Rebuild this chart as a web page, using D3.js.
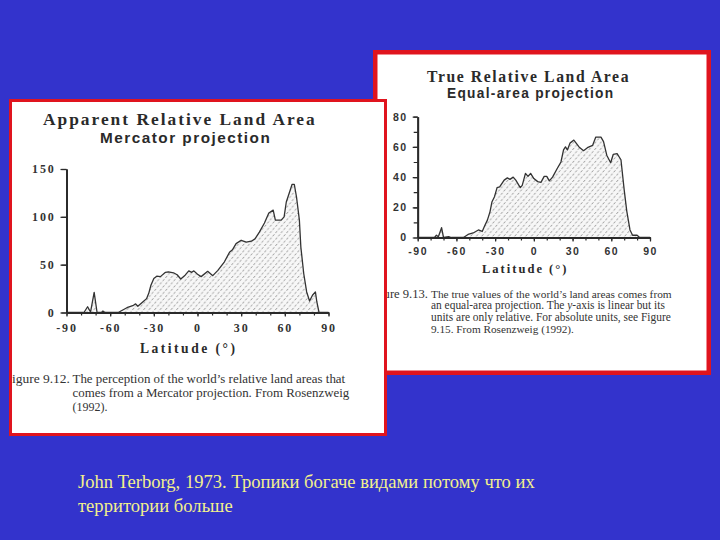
<!DOCTYPE html>
<html><head><meta charset="utf-8">
<script src="https://cdn.jsdelivr.net/npm/d3@7"></script>
<style>
html,body{margin:0;padding:0;background:#3333cc;}
svg{display:block;}
</style></head>
<body>
<svg id="c" width="720" height="540"></svg>
<script>
// ---------- data ----------
const latTicks = [-90, -60, -30, 0, 30, 60, 90];
const mercTicks = [0, 50, 100, 150];
const equalTicks = [0, 20, 40, 60, 80];

const mercLat = [-90,-78,-75.5,-73.5,-71,-69,-66,-65,-63.5,-54.5,-48.5,-44,-42.5,-41,-38,-35,-33.5,-32,-30,-28,-25.5,-22,-20,-16.5,-14,-11.5,-8.5,-6,-4,-2.5,0,2.5,7,10.5,14,18.5,22,24,26.5,30,33.5,37,39.5,42.5,46,49,52,53.5,57.5,59.5,61,63.5,65,66.5,68,70,71,73,75,77,79,81,82,83.5,90];
const mercVal = [0,0,6,0.5,21,0,0,1.5,0,0,5,7.5,9,6.5,10.5,14.5,20,28.5,35.5,38,37.5,42,42.5,41.5,39.5,35,39,43.5,42,43.5,40,37.5,43,38.5,44,53,63,65.5,72,75.5,73.5,74.5,77,84,93.5,104,107,96.5,96.5,100,115.5,127,134,134,121,96.5,68.5,40.5,21.5,12,18,21.5,11,0,0];

const equalLat = [-90,-77,-75.5,-74,-71.5,-70,-66,-64,-54.5,-51,-47,-43,-40,-38,-36,-34,-32.5,-30.5,-28.5,-26.5,-23,-20.5,-18.5,-16,-14,-10.5,-9,-6.5,-4.5,-2.5,0,3,5.5,8,10,12,14.5,18,21,23,24.5,26,28,31,35,38.5,41.5,45.5,48,52,54,56.5,59.5,61.5,64.5,67.5,70,72,74.5,76.5,80,82,90];
const equalVal = [0,0,1.5,0.5,6.5,0,0.5,0,0,2,3,5,4,8,11.5,17,23.5,27,33,33.5,38,39.5,38.5,40,38,33,34.5,42.5,40.5,42.5,39,37,36.5,40.5,40.5,37.5,40,45.5,50,58,60,58,62.5,64.5,60,57.5,59.5,61,66.5,66.5,63.5,54.5,49.5,55,55.5,51.5,31.5,17.5,5,1.5,1.5,0,0];

const leftTitle = ["Apparent Relative Land Area", "Mercator projection"];
const rightTitle = ["True Relative Land Area", "Equal-area projection"];
const axisTitle = "Latitude (°)";
const leftCaption = ["The perception of the world\u2019s relative land areas that", "comes from a Mercator projection. From Rosenzweig", "(1992)."];
const rightCaption = ["The true values of the world\u2019s land areas comes from", "an equal-area projection. The |y|-axis is linear but its", "units are only relative. For absolute units, see Figure", "9.15.  From Rosenzweig (1992)."];
const footer = ["John Terborg, 1973. Тропики богаче видами потому что их", "территории больше"];

// ---------- drawing ----------
const svg = d3.select("#c");
svg.append("rect").attr("width",720).attr("height",540).attr("fill","#3333cc");
const defs = svg.append("defs");
const pat = defs.append("pattern").attr("id","hatch").attr("patternUnits","userSpaceOnUse")
  .attr("width",5.5).attr("height",6.4);
pat.append("rect").attr("width",5.5).attr("height",6.4).attr("fill","#f7f7f7");
pat.append("path").attr("d","M0.5,2.6L2.1,0.8M3.25,5.8L4.85,4.0").attr("stroke","#7a7a7a").attr("stroke-width",0.85);

function fitText(sel, target, maxSize){
  const node = sel.node();
  const w = node.getComputedTextLength();
  if (w > 0) {
    const fs = parseFloat(sel.attr("font-size"));
    sel.attr("font-size", Math.min(maxSize || 99, fs * target / w));
  }
  return sel;
}

function panel(g, x0, y0, x1, y1, bw, clipId){
  g.append("rect").attr("x",x0).attr("y",y0).attr("width",x1-x0).attr("height",y1-y0).attr("fill","#e0141e");
  g.append("rect").attr("x",x0+bw).attr("y",y0+bw).attr("width",x1-x0-2*bw).attr("height",y1-y0-2*bw).attr("fill","#ffffff");
  defs.append("clipPath").attr("id",clipId).append("rect")
    .attr("x",x0+bw).attr("y",y0+bw).attr("width",x1-x0-2*bw).attr("height",y1-y0-2*bw);
  return g.append("g").attr("clip-path",`url(#${clipId})`);
}

function chart(g, cfg){
  const x = d3.scaleLinear().domain([-90,90]).range(cfg.xr);
  const y = d3.scaleLinear().domain([0, cfg.ymax]).range(cfg.yr);
  const data = cfg.lat.map((d,i)=>[d, cfg.val[i]]);
  const area = d3.area().x(d=>x(d[0])).y0(y(0)).y1(d=>y(d[1])).curve(d3.curveLinear);
  const line = d3.line().x(d=>x(d[0])).y(d=>y(d[1])).curve(d3.curveLinear);
  g.append("path").datum(data).attr("d",area).attr("fill","url(#hatch)");
  g.append("path").datum(data).attr("d",line).attr("fill","none").attr("stroke","#333")
    .attr("stroke-width",1.3).attr("stroke-linejoin","round");

  const fmt = d => String(d);
  const ya = d3.axisLeft(y).tickValues(cfg.yminor).tickSize(cfg.ytick).tickSizeOuter(0).tickFormat(()=>"");
  const yg = g.append("g").attr("transform",`translate(${cfg.xr[0]},0)`).call(ya);
  const yl = d3.axisLeft(y).tickValues(cfg.yticks).tickSize(cfg.ytick+1).tickSizeOuter(0).tickPadding(3).tickFormat(fmt);
  const yg2 = g.append("g").attr("transform",`translate(${cfg.xr[0]},0)`).call(yl);
  const xa = d3.axisBottom(x).tickValues(d3.range(-90,91,10)).tickSize(3).tickSizeOuter(0).tickFormat(()=>"");
  const xg = g.append("g").attr("transform",`translate(0,${cfg.yr[0]})`).call(xa);
  const xl = d3.axisBottom(x).tickValues(latTicks).tickSize(4).tickSizeOuter(0).tickPadding(cfg.xpad).tickFormat(fmt);
  const xg2 = g.append("g").attr("transform",`translate(0,${cfg.yr[0]})`).call(xl);
  [yg,yg2,xg,xg2].forEach(a=>{
    a.select(".domain").attr("stroke","#2a2a2a").attr("stroke-width",1.8);
    a.selectAll(".tick line").attr("stroke","#2a2a2a").attr("stroke-width",1.2);
    a.selectAll("text").attr("fill","#333").attr("font-family",cfg.tickFont)
      .attr("font-weight","bold").attr("font-size",cfg.tickSize).style("letter-spacing",cfg.tickLS);
  });
  yg2.selectAll("text").attr("dx", cfg.ydx || 0);
}

// Right panel (behind)
const gr = svg.append("g");
const cr = panel(gr, 373, 50, 711, 375, 4.5, "clipR");
chart(cr, {lat:equalLat, val:equalVal, ymax:80, xr:[417.7,650], yr:[237.5,116.7],
  yticks:equalTicks, yminor:d3.range(0,81,10), ytick:4, xpad:6,
  tickFont:"Liberation Sans, Arial, sans-serif", tickSize:10.5, tickLS:"1.5px", ydx:-2});
fitText(cr.append("text").attr("x",427).attr("y",81.5).attr("font-family","Liberation Serif, Times New Roman, serif")
  .attr("font-weight","bold").attr("font-size",15).style("letter-spacing","1.6px").attr("fill","#2a2a2a").text(rightTitle[0]), 205, 16);
fitText(cr.append("text").attr("x",447).attr("y",98).attr("font-family","Liberation Sans, Arial, sans-serif")
  .attr("font-weight","bold").attr("font-size",13).style("letter-spacing","1.3px").attr("fill","#2a2a2a").text(rightTitle[1]), 169, 14);
fitText(cr.append("text").attr("x",482).attr("y",273).attr("font-family","Liberation Serif, Times New Roman, serif")
  .attr("font-weight","bold").attr("font-size",14).style("letter-spacing","2px").attr("fill","#2a2a2a").text(axisTitle), 84, 16);
cr.append("text").attr("x",428).attr("y",297.5).attr("text-anchor","end")
  .attr("font-family","Liberation Serif, Times New Roman, serif").attr("font-size",12.6).attr("fill","#333").text("Figure 9.13.");
const rightTargets = [241, 234, 240, 143];
rightCaption.forEach((s,i)=>{
  const t = cr.append("text").attr("x",431).attr("y",297.5+i*11.7)
    .attr("font-family","Liberation Serif, Times New Roman, serif").attr("font-size",12.3).attr("fill","#333");
  s.split("|").forEach((p,j)=>{ t.append("tspan").attr("font-style", j===1?"italic":"normal").text(p); });
  fitText(t, rightTargets[i], 12.8);
});

// Left panel (on top)
const gl = svg.append("g");
const cl = panel(gl, 9, 99, 387, 436, 3, "clipL");
chart(cl, {lat:mercLat, val:mercVal, ymax:150, xr:[66.5,328.5], yr:[312.5,169],
  yticks:mercTicks, yminor:mercTicks, ytick:5, xpad:7,
  tickFont:"Liberation Serif, Times New Roman, serif", tickSize:12, tickLS:"1.8px", ydx:-2});
fitText(cl.append("text").attr("x",43).attr("y",125).attr("font-family","Liberation Serif, Times New Roman, serif")
  .attr("font-weight","bold").attr("font-size",17).style("letter-spacing","2px").attr("fill","#2a2a2a").text(leftTitle[0]), 275, 18.5);
fitText(cl.append("text").attr("x",100).attr("y",143).attr("font-family","Liberation Sans, Arial, sans-serif")
  .attr("font-weight","bold").attr("font-size",15).style("letter-spacing","1.5px").attr("fill","#2a2a2a").text(leftTitle[1]), 172, 16);
fitText(cl.append("text").attr("x",140).attr("y",352.5).attr("font-family","Liberation Serif, Times New Roman, serif")
  .attr("font-weight","bold").attr("font-size",16).style("letter-spacing","2.5px").attr("fill","#2a2a2a").text(axisTitle), 93, 18);
cl.append("text").attr("x",70).attr("y",383).attr("text-anchor","end")
  .attr("font-family","Liberation Serif, Times New Roman, serif").attr("font-size",13.5).attr("fill","#333").text("Figure 9.12.");
const leftTargets = [273, 277, 35];
leftCaption.forEach((s,i)=>{
  const t = cl.append("text").attr("x",72.5).attr("y",383+i*14)
    .attr("font-family","Liberation Serif, Times New Roman, serif").attr("font-size",13.3).attr("fill","#333").text(s);
  fitText(t, leftTargets[i], 14);
});

// Footer
const f0 = svg.append("text").attr("x",78).attr("y",488).attr("font-family","Liberation Serif, Times New Roman, serif")
  .attr("font-size",17).attr("fill","#f2f08c").text(footer[0]);
fitText(f0, 457, 22);
svg.append("text").attr("x",78).attr("y",512).attr("font-family","Liberation Serif, Times New Roman, serif")
  .attr("font-size",f0.attr("font-size")).attr("fill","#f2f08c").text(footer[1]);
</script>
</body></html>
